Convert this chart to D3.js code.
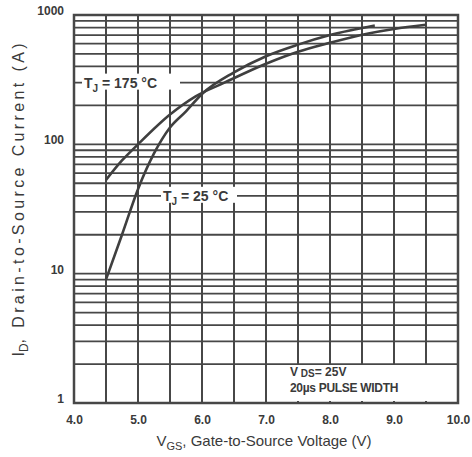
<!DOCTYPE html>
<html>
<head>
<meta charset="utf-8">
<script src="https://cdn.jsdelivr.net/npm/d3@7"></script>
<style>
  html, body { margin: 0; padding: 0; background: #fff; }
  svg { display: block; }
  text { font-family: "Liberation Sans Narrow", "Liberation Sans", Arial, sans-serif; fill: #3a3a3a; }
  .title { font-family: "Liberation Sans", Arial, sans-serif; }
</style>
</head>
<body>
<svg id="chart" width="472" height="457"></svg>
<script>
// Transfer characteristics: drain current vs gate voltage at two junction temperatures
const xTicks = [4.0, 5.0, 6.0, 7.0, 8.0, 9.0, 10.0];
const yTicks = [1, 10, 100, 1000];

const vgs175 = [4.5, 4.75, 5.0, 5.5, 5.9, 6.35, 7.0, 7.5, 8.0, 8.6, 9.0, 9.5];
const id175  = [53, 75, 100, 170, 235, 300, 420, 520, 610, 720, 780, 840];

const vgs25 = [4.5, 4.75, 5.0, 5.25, 5.5, 5.75, 6.0, 6.5, 7.0, 7.5, 8.0, 8.7];
const id25  = [9, 20, 45, 85, 135, 180, 245, 360, 480, 590, 700, 830];

const svg = d3.select("#chart");
const m = { left: 74, right: 458, top: 15, bottom: 403 };
const ink = "#474747";

const x = d3.scaleLinear().domain([4, 10]).range([m.left, m.right]);
const y = d3.scaleLog().domain([1, 1000]).range([m.bottom, m.top]);

// grid: verticals every 0.5 V, horizontals at 1..9 per decade
const vLines = d3.range(4.5, 10, 0.5);
const hLines = [];
[1, 10, 100].forEach(d => d3.range(2, 10).forEach(k => hLines.push(d * k)));
[10, 100].forEach(d => hLines.push(d));

const grid = svg.append("g");
grid.selectAll("line.v").data(vLines).join("line")
  .attr("x1", d => x(d)).attr("x2", d => x(d))
  .attr("y1", m.top).attr("y2", m.bottom)
  .attr("stroke", ink).attr("stroke-width", 2);
grid.selectAll("line.h").data(hLines).join("line")
  .attr("x1", m.left).attr("x2", m.right)
  .attr("y1", d => y(d)).attr("y2", d => y(d))
  .attr("stroke", ink).attr("stroke-width", 1.8);

// curves
const line = d3.line().x(d => x(d[0])).y(d => y(d[1])).curve(d3.curveMonotoneX);
const s175 = vgs175.map((v, i) => [v, id175[i]]);
const s25 = vgs25.map((v, i) => [v, id25[i]]);
[s175, s25].forEach(s => {
  svg.append("path").datum(s).attr("d", line)
    .attr("fill", "none").attr("stroke", "#3f3f3f").attr("stroke-width", 2.6);
});

// frame
svg.append("rect")
  .attr("x", m.left).attr("y", m.top)
  .attr("width", m.right - m.left).attr("height", m.bottom - m.top)
  .attr("fill", "none").attr("stroke", ink).attr("stroke-width", 2.5);

// curve labels on white boxes
function tjLabel(xPix, yVal, w, temp) {
  const yy = y(yVal);
  svg.append("rect").attr("x", xPix - 2).attr("y", yy - 9).attr("width", w).attr("height", 16).attr("fill", "#fff");
  const t = svg.append("text").attr("x", xPix).attr("y", yy + 5)
    .attr("font-size", 14).attr("font-weight", "bold");
  t.append("tspan").text("T");
  t.append("tspan").attr("font-size", 10).attr("dy", 4).text("J");
  t.append("tspan").attr("dy", -4).text(" = " + temp + "\u00B0C");
}
tjLabel(84, 300, 98, "175 ");
tjLabel(163, 40, 76, "25 ");

// test condition note
svg.append("rect").attr("x", 284).attr("y", 365).attr("width", 172).attr("height", 36).attr("fill", "#fff");
const note = svg.append("text").attr("x", 290).attr("y", 376).attr("font-size", 12).attr("font-weight", "bold");
note.append("tspan").text("V");
note.append("tspan").attr("font-size", 10).attr("dy", 1).text(" DS");
note.append("tspan").attr("dy", -1).text("= 25V");
svg.append("text").attr("x", 290).attr("y", 392).attr("font-size", 12).attr("font-weight", "bold")
  .attr("letter-spacing", -0.3).text("20\u00B5s PULSE WIDTH");

// axes
const xAxis = d3.axisBottom(x).tickValues(xTicks).tickFormat(d3.format(".1f")).tickSize(0).tickPadding(12);
const gx = svg.append("g").attr("transform", `translate(0,${m.bottom})`).call(xAxis);
gx.select(".domain").remove();
gx.selectAll("text").attr("font-size", 12).attr("font-weight", "bold").attr("fill", "#3a3a3a");

const yAxis = d3.axisLeft(y).tickValues(yTicks).tickFormat(d3.format("d")).tickSize(0).tickPadding(10);
const gy = svg.append("g").attr("transform", `translate(${m.left},0)`).call(yAxis);
gy.select(".domain").remove();
gy.selectAll("text").attr("font-size", 12).attr("font-weight", "bold").attr("fill", "#3a3a3a").attr("dy", "-0.05em");

// axis titles
const xt = svg.append("text").attr("class", "title").attr("x", 264).attr("y", 446)
  .attr("text-anchor", "middle").attr("font-size", 15);
xt.append("tspan").text("V");
xt.append("tspan").attr("font-size", 11).attr("dy", 4).text("GS");
xt.append("tspan").attr("dy", -4).text(", Gate-to-Source Voltage (V)");

const yt = svg.append("text").attr("class", "title").attr("transform", "translate(24,200) rotate(-90)")
  .attr("text-anchor", "middle").attr("font-size", 16);
yt.append("tspan").text("I");
yt.append("tspan").attr("font-size", 12).attr("dy", 4).text("D");
yt.append("tspan").attr("dy", -4).attr("textLength", 300).attr("lengthAdjust", "spacing")
  .text(", Drain-to-Source Current (A)");
</script>
</body>
</html>
